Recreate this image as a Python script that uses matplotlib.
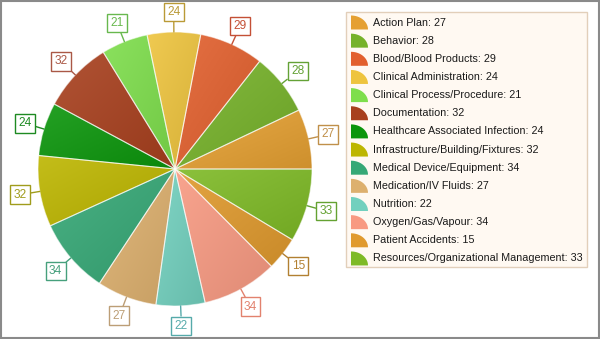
import numpy as np
import matplotlib
matplotlib.use("Agg")
import matplotlib.pyplot as plt
from matplotlib.patches import Rectangle, Polygon
from matplotlib.colors import to_rgb

categories = [
    "Action Plan", "Behavior", "Blood/Blood Products", "Clinical Administration",
    "Clinical Process/Procedure", "Documentation", "Healthcare Associated Infection",
    "Infrastructure/Building/Fixtures", "Medical Device/Equipment", "Medication/IV Fluids",
    "Nutrition", "Oxygen/Gas/Vapour", "Patient Accidents", "Resources/Organizational Management",
]
counts = [27, 28, 29, 24, 21, 32, 24, 32, 34, 27, 22, 34, 15, 33]

fill_colors = ["#E5A032", "#76B22A", "#E2602E", "#EEC43E", "#7EDE4C", "#A8401E", "#0C960C",
               "#BDB600", "#36A876", "#DDB06E", "#72D0BE", "#F89A82", "#E09A2E", "#7EBA26"]
label_colors = ["#C0904A", "#64A236", "#C45036", "#BA9A36", "#68B84E", "#AA5846", "#1E8A22",
                "#A09C1C", "#46A07C", "#BC9E76", "#56AAAA", "#E2826E", "#B28032", "#64A232"]

W, H = 600, 339
fig = plt.figure(figsize=(W / 100, H / 100), dpi=100)
fig.patch.set_facecolor("white")
ax = fig.add_axes([0, 0, 1, 1])

cx, cy, r = 175, 339 - 169, 137


def shade(c, f):
    c = np.array(to_rgb(c))
    if f >= 0:
        return c + (1 - c) * f
    return c * (1 + f)


wedges, _ = ax.pie(counts, colors=fill_colors, center=(cx, cy), radius=r, startangle=0,
                   counterclock=True, frame=True,
                   wedgeprops=dict(edgecolor=(1, 1, 1, 0.55), linewidth=0.8))

# per-slice diagonal gradient, light top-left to darker bottom-right
for w, col in zip(wedges, fill_colors):
    x0, y0 = w.center
    th = np.radians(np.linspace(w.theta1, w.theta2, 40))
    xs = np.r_[x0, x0 + w.r * np.cos(th)]
    ys = np.r_[y0, y0 + w.r * np.sin(th)]
    xa, xb, ya, yb = xs.min(), xs.max(), ys.min(), ys.max()
    gx, gy = np.meshgrid(np.linspace(0, 1, 64), np.linspace(0, 1, 64))
    t = (gx + gy) / 2
    light, dark = shade(col, 0.10), shade(col, -0.10)
    img = light[None, None, :] * (1 - t[..., None]) + dark[None, None, :] * t[..., None]
    im = ax.imshow(img, extent=(xa, xb, ya, yb), origin="upper", zorder=1.5,
                   interpolation="bilinear", aspect="auto")
    im.set_clip_path(w)
    w.set_zorder(2)
    w.set_facecolor("none")

# value boxes around the rim
cum = np.cumsum([0] + counts)
total = cum[-1]
for i, v in enumerate(counts):
    ang = np.radians((cum[i] + v / 2) / total * 360)
    ex, ey = cx + r * np.cos(ang), cy + r * np.sin(ang)
    tx, ty = cx + 157 * np.cos(ang), cy + 157 * np.sin(ang)
    ax.annotate(str(v), xy=(ex, ey), xytext=(tx, ty), ha="center", va="center",
                fontsize=8.6, family="Liberation Sans", color=label_colors[i], zorder=5,
                bbox=dict(boxstyle="square,pad=0.28", fc="white", ec=label_colors[i], lw=1.0),
                arrowprops=dict(arrowstyle="-", color=label_colors[i], lw=1.0,
                                shrinkA=0, shrinkB=0))

ax.set_xlim(0, W)
ax.set_ylim(0, H)
ax.set_aspect("auto")
ax.axis("off")


# legend panel (pixel coords, y measured from top)
def py(y):
    return H - y


ax.add_patch(Rectangle((346, py(267)), 241, 255, fc="#FFF9F2", ec="#E2CFBA", lw=1, zorder=4))
for i, (name, v) in enumerate(zip(categories, counts)):
    yc = 22.5 + i * 18.15
    col = fill_colors[i]
    th = np.linspace(0, np.pi / 2, 20)
    mx, my = 351, yc + 7
    pts = [(mx, py(my))] + [(mx + 17 * np.cos(a), py(my - 14 * np.sin(a))) for a in th]
    ax.add_patch(Polygon(pts, closed=True, fc=col, ec="none", zorder=5))
    ax.text(373, py(yc), f"{name}: {v}", fontsize=7.75, family="Liberation Sans",
            color="#1a1a1a", va="center", ha="left", zorder=6)

# outer frame
ax.add_patch(Rectangle((0.75, 0.75), W - 1.5, H - 1.5, fc="none", ec="#8A8A8A", lw=1.5, zorder=7))

fig.savefig("out.png", dpi=100)
